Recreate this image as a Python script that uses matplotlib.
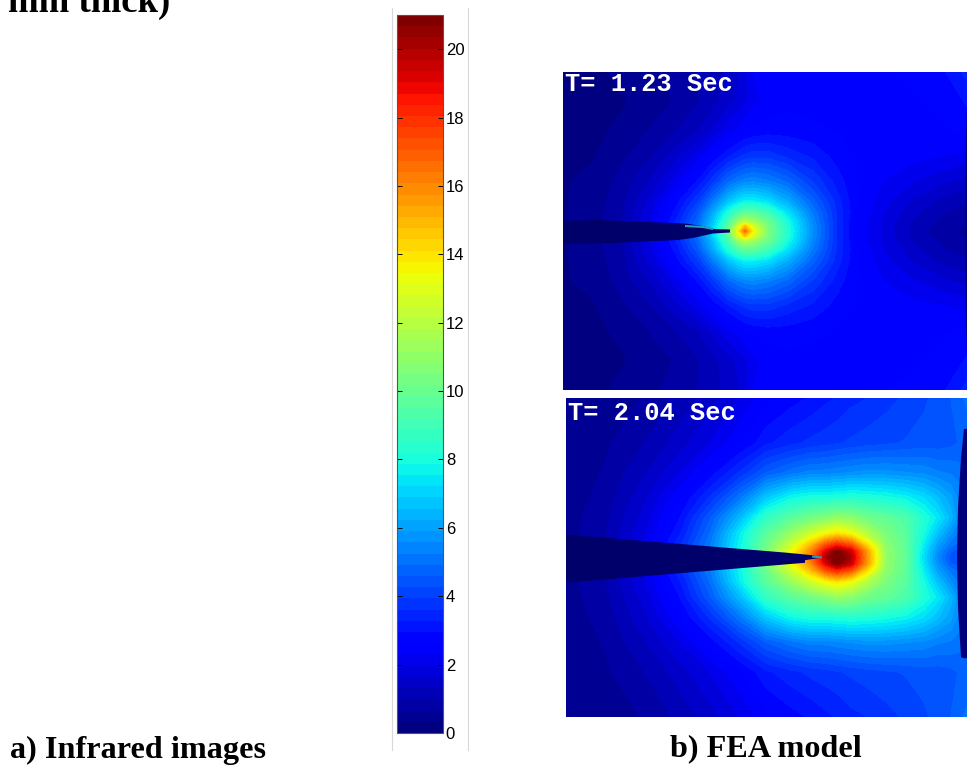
#!/usr/bin/env python

import numpy as np
import matplotlib
matplotlib.use('Agg')
import matplotlib.pyplot as plt
from matplotlib.lines import Line2D

W, H = 967, 766

cbar_ticks = [0, 2, 4, 6, 8, 10, 12, 14, 16, 18, 20]
cbar_max = 21

# panel 1, T=1.23 s: columns along the crack, rows = distance from the crack line
x1 = [0, 30, 60, 90, 115, 135, 150, 165, 175, 182, 190, 205, 225, 250, 275, 295, 320, 350, 380, 404]
y1 = [0, 5, 10, 18, 30, 50, 75, 100, 130, 159]
z1 = [
    [.3, .5, 1.0, 2.2, 3.5, 5.0, 7.0, 10, 13.5, 16.5, 13.5, 10.5, 8.2, 5.5, 3.5, 2.5, 1.9, 1.2, .8, .6],
    [.3, .5, 1.0, 2.2, 3.5, 5.0, 6.9, 9.5, 12.5, 14.5, 12.8, 10.4, 8.1, 5.5, 3.5, 2.5, 1.9, 1.2, .8, .6],
    [.3, .5, 1.0, 2.1, 3.4, 4.8, 6.6, 9.0, 11, 11.8, 11.3, 10, 7.9, 5.4, 3.5, 2.5, 1.9, 1.3, .9, .7],
    [.3, .5, .95, 2.0, 3.2, 4.5, 6.2, 8.2, 9.3, 9.8, 9.8, 9.0, 7.3, 5.2, 3.5, 2.6, 2.0, 1.4, 1.0, .8],
    [.3, .45, .9, 1.8, 2.9, 3.9, 5.2, 6.6, 7.3, 7.6, 7.6, 7.2, 6.2, 4.7, 3.4, 2.6, 2.1, 1.6, 1.2, 1.0],
    [.3, .4, .8, 1.4, 2.2, 3.0, 3.8, 4.8, 5.2, 5.4, 5.5, 5.3, 4.8, 3.9, 3.1, 2.6, 2.3, 2.0, 1.7, 1.5],
    [.25, .3, .6, 1.0, 1.6, 2.1, 2.7, 3.2, 3.5, 3.7, 3.8, 3.8, 3.5, 3.2, 2.8, 2.6, 2.5, 2.4, 2.3, 2.2],
    [.2, .25, .4, .7, 1.0, 1.3, 1.7, 2.2, 2.4, 2.6, 2.7, 2.8, 2.8, 2.7, 2.6, 2.6, 2.6, 2.6, 2.6, 2.7],
    [.2, .2, .3, .5, .7, .95, 1.2, 1.5, 1.7, 1.9, 2.2, 2.4, 2.5, 2.5, 2.5, 2.5, 2.6, 2.6, 2.7, 3.0],
    [.2, .2, .45, .6, .8, 1.0, 1.2, 1.4, 1.6, 1.8, 2.3, 2.4, 2.4, 2.5, 2.5, 2.5, 2.6, 2.7, 2.9, 3.4],
]
crack1_x = [0, 35, 122, 140, 150, 167, 167, 150, 130, 115, 50, 0]
crack1_y = [10, 11, 7.5, 5, 2, 1.5, -1.5, -2.5, -7, -9, -12, -13]
tip1_x = [122, 140, 150]
tip1_y = [5, 4, 2]
edge1_x = [404, 402, 402, 404]
edge1_y = [122, 60, -60, -122]

# panel 2, T=2.04 s
x2 = [0, 40, 80, 115, 145, 175, 200, 225, 245, 260, 271, 285, 300, 320, 340, 358, 372, 385, 392, 401]
y2 = [0, 6, 12, 24, 40, 60, 85, 115, 160]
z2 = [
    [.5, 1.0, 2.2, 3.8, 5.5, 8.0, 10.5, 13.6, 16.5, 20, 21.5, 20, 16, 11, 9.8, 7.2, 5.5, 4.4, 4.3, 4.3],
    [.5, 1.0, 2.2, 3.7, 5.4, 7.9, 10.3, 13.2, 16, 19.2, 21, 19.5, 15.8, 11, 9.8, 7.3, 5.6, 4.6, 4.4, 4.4],
    [.5, 1.0, 2.1, 3.6, 5.3, 7.8, 10.1, 12.6, 15, 17.5, 18.5, 17.5, 14.5, 10.9, 9.7, 7.5, 5.9, 5.0, 4.8, 4.8],
    [.5, .95, 2.0, 3.3, 5.0, 7.6, 9.6, 11.2, 12.6, 13.5, 14, 13.4, 12, 10.5, 9.6, 7.9, 6.6, 5.6, 5.2, 5.2],
    [.5, .9, 1.8, 3.0, 4.6, 6.6, 8.6, 9.6, 10.2, 10.6, 11, 10.8, 10.2, 9.8, 9.3, 8.2, 7.4, 6.4, 5.7, 5.5],
    [.45, .8, 1.6, 2.6, 3.7, 5.2, 6.8, 7.8, 8.1, 8.1, 8.2, 8.3, 8.2, 8.0, 7.7, 7.2, 6.6, 6.0, 5.5, 5.4],
    [.4, .7, 1.3, 2.0, 2.8, 3.7, 4.6, 5.1, 5.4, 5.4, 5.5, 5.6, 5.7, 5.7, 5.6, 5.5, 5.3, 5.2, 5.1, 5.0],
    [.35, .6, 1.0, 1.5, 2.0, 2.6, 3.2, 3.5, 3.7, 3.8, 3.9, 4.0, 4.1, 4.2, 4.3, 4.4, 4.4, 4.5, 4.6, 4.7],
    [.35, .45, .7, 1.1, 1.5, 2.0, 2.5, 2.8, 3.0, 3.2, 3.3, 3.5, 3.6, 3.8, 4.0, 4.2, 4.4, 4.6, 4.8, 5.0],
]
crack2_x = [0, 222, 246, 256, 239, 239, 4, 0]
crack2_y = [23, 4.7, 2.3, 0, -2.7, -5.3, -25, -23]
tip2_x = [246, 256]
tip2_y = [1, 0]
edge2_x = [401, 398, 395, 392, 391, 392, 395, 398, 401]
edge2_y = [129, 129, 100, 50, 0, -50, -100, -101, -101]


def px_axes(fig, left, top, right, bottom):
    return fig.add_axes([left/W, 1 - bottom/H, (right-left)/W, (bottom-top)/H])


def field_panel(ax, x, y, z, crack, tip, edge, label, lx, ldrop):
    z = np.array(z)
    y = np.array(y)
    yy = np.concatenate([-y[::-1], y[1:]])
    zz = np.vstack([z[::-1], z[1:]])
    ax.contourf(x, yy, zz, levels=np.linspace(0, cbar_max, 65), cmap=jet,
                vmin=0, vmax=cbar_max, extend='both')
    ax.fill(crack[0], crack[1], color='#00006a', lw=0)
    ax.plot(tip[0], tip[1], color='#1f9fc0', lw=1.5, solid_capstyle='butt')
    ax.fill(edge[0], edge[1], color='#00007a', lw=0)
    ax.set_xlim(x[0], x[-1])
    ax.set_ylim(yy[0], yy[-1])
    ax.axis('off')
    ax.text(lx, yy[-1] - ldrop, label, color='white', family='Liberation Mono',
            fontweight='bold', fontsize=18.3, va='center', ha='left')


jet = plt.get_cmap('jet', 64)

fig = plt.figure(figsize=(W/100, H/100), dpi=100)

ax1 = px_axes(fig, 563, 72, 967, 390)
field_panel(ax1, x1, y1, z1, (crack1_x, crack1_y), (tip1_x, tip1_y), (edge1_x, edge1_y), 'T= 1.23 Sec', 2, 12)
ax2 = px_axes(fig, 566, 398, 967, 717)
field_panel(ax2, x2, y2, z2, (crack2_x, crack2_y), (tip2_x, tip2_y), (edge2_x, edge2_y), 'T= 2.04 Sec', 2, 15)

cax = px_axes(fig, 397, 15, 443, 733)
sm = plt.cm.ScalarMappable(norm=plt.Normalize(0, cbar_max), cmap=jet)
cb = fig.colorbar(sm, cax=cax, ticks=cbar_ticks, drawedges=False)
cb.outline.set_edgecolor('#555555')
cb.outline.set_linewidth(.8)
cax.tick_params(left=True, right=True, direction='in', length=3.5, width=.7, labelsize=12, pad=2)
for t in cax.get_yticklabels():
    t.set_family('Liberation Sans')

for xp in (391.5, 468):
    fig.add_artist(Line2D([xp/W, xp/W], [1 - 8/H, 1 - 750/H], color='#d8d8d8', lw=.8))

serif = dict(family='Liberation Serif', fontweight='bold')
fig.text(8/W, 1 - 12/H, 'mm thick)', va='baseline', fontsize=26.5, **serif)
fig.text(10/W, 1 - 758/H, 'a) Infrared images', va='baseline', fontsize=23.2, **serif)
fig.text(670/W, 1 - 756/H, 'b) FEA model', va='baseline', fontsize=23.2, **serif)

fig.savefig('out.png', dpi=100)
